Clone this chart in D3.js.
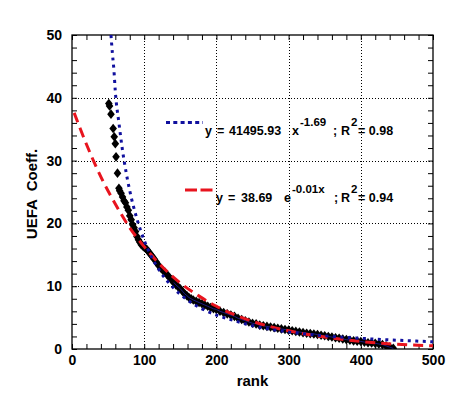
<!DOCTYPE html>
<html>
<head>
<meta charset="utf-8">
<script src="https://cdn.jsdelivr.net/npm/d3@7"></script>
<style>
  html, body { margin: 0; padding: 0; background: #fff; }
  svg { display: block; font-family: "Liberation Sans", Arial, sans-serif; font-weight: bold; }
  svg text { white-space: pre; }
</style>
</head>
<body>
<svg id="chart" width="469" height="397"></svg>
<script>
// ---- data ----
const ranks = [51,52,54,57,58.5,60,61,63,65,66,68,70,72,74,76,78,80,82,84,86,88,90,92,94,96,98,100,102,104,106,108,110,112,114,117,120,123,126,129,132,135,138,141,144,147,150,153,156,159,162,165,168,172,176,180,184,188,192,196,200,205,210,215,220,225,230,235,240,245,250,255,260,265,270,275,280,285,290,295,300,305,310,315,320,325,330,335,340,345,350,355,360,365,370,375,380,385,390,395,400,405,410,415,420,425,430,435,440,445];
const coeffs = [39.1,38.7,37.4,35.1,33.8,32.7,30.6,28.0,25.6,25.2,24.8,24.2,23.6,23.3,22.6,22.1,21.2,20.6,19.8,19.3,18.7,17.9,17.4,17.0,16.6,16.4,16.2,16.0,15.8,15.5,15.2,14.9,14.6,14.3,13.8,13.3,12.9,12.5,12.2,11.8,11.4,11.0,10.6,10.2,9.9,9.6,9.2,8.8,8.5,8.2,8.0,7.8,7.6,7.4,7.2,7.0,6.8,6.6,6.4,6.3,6.0,5.8,5.6,5.4,5.2,4.9,4.7,4.5,4.3,4.1,4.0,3.8,3.7,3.6,3.5,3.4,3.3,3.2,3.1,3.0,2.9,2.8,2.7,2.6,2.5,2.45,2.4,2.3,2.2,2.1,2.0,1.9,1.8,1.7,1.6,1.5,1.4,1.3,1.25,1.2,1.1,1.0,0.95,0.9,0.8,0.7,0.5,0.3,0.1];

// power-law fit curve (blue dotted), sampled as seen in the picture
const powerFitX = [54,56,58,60,65,70,75,80,90,100,110,120,140,160,180,200,225,250,300,350,400,450,500];
const powerFitY = [50,47,44.5,41,36,31.6,28.1,25.2,20.7,17.3,14.7,12.7,9.8,7.8,6.4,5.4,4.5,3.7,2.7,2.1,1.7,1.4,1.15];

// exponential fit curve (red dashed), sampled as seen in the picture
const expFitX = [3,20,40,60,80,100,125,150,175,200,250,300,350,400,450,500];
const expFitY = [37.6,32.6,27.4,23.1,19.3,16.3,13.1,10.5,8.5,6.8,4.4,2.9,1.9,1.2,0.75,0.5];

const xTickValues = [0,100,200,300,400,500];
const yTickValues = [0,10,20,30,40,50];
const xLabel = "rank";
const yLabel = "UEFA  Coeff.";

// ---- layout ----
const M = { left: 72, right: 433, top: 35, bottom: 349 };
const svg = d3.select("#chart");
const x = d3.scaleLinear().domain([0, 500]).range([M.left, M.right]);
const y = d3.scaleLinear().domain([0, 50]).range([M.bottom, M.top]);

svg.append("defs").append("clipPath").attr("id", "clip")
  .append("rect").attr("x", M.left).attr("y", M.top)
  .attr("width", M.right - M.left).attr("height", M.bottom - M.top);

// grid
const grid = svg.append("g").attr("stroke", "#000").attr("stroke-width", 1).attr("stroke-dasharray", "1,2");
xTickValues.slice(1, -1).forEach(v => {
  grid.append("line").attr("x1", Math.round(x(v)) + 0.5).attr("x2", Math.round(x(v)) + 0.5).attr("y1", M.top).attr("y2", M.bottom);
});
yTickValues.slice(1, -1).forEach(v => {
  grid.append("line").attr("y1", Math.round(y(v)) + 0.5).attr("y2", Math.round(y(v)) + 0.5).attr("x1", M.left).attr("x2", M.right);
});

// axes with inward ticks, mirrored
const xMinor = d3.range(0, 501, 20);
const yMinor = d3.range(0, 51, 2);
const axB = d3.axisBottom(x).tickValues(xMinor).tickSize(-5).tickFormat("");
const axT = d3.axisTop(x).tickValues(xMinor).tickSize(-5).tickFormat("");
const axL = d3.axisLeft(y).tickValues(yMinor).tickSize(-5).tickFormat("");
const axR = d3.axisRight(y).tickValues(yMinor).tickSize(-5).tickFormat("");
function styleAxis(g) { g.select(".domain").remove(); g.selectAll("line").attr("stroke", "#000"); }
svg.append("g").attr("transform", `translate(0,${M.bottom})`).call(axB).call(styleAxis);
svg.append("g").attr("transform", `translate(0,${M.top})`).call(axT).call(styleAxis);
svg.append("g").attr("transform", `translate(${M.left},0)`).call(axL).call(styleAxis);
svg.append("g").attr("transform", `translate(${M.right},0)`).call(axR).call(styleAxis);
svg.append("rect").attr("x", M.left).attr("y", M.top).attr("width", M.right - M.left).attr("height", M.bottom - M.top)
  .attr("fill", "none").attr("stroke", "#000").attr("stroke-width", 1.3);

// major tick labels
const xMajor = d3.axisBottom(x).tickValues(xTickValues).tickSize(0).tickPadding(6).tickFormat(d3.format("d"));
const gx = svg.append("g").attr("transform", `translate(0,${M.bottom})`).call(xMajor);
gx.select(".domain").remove();
gx.selectAll("text").attr("font-size", 14).attr("font-weight", "bold").attr("fill", "#000")
  .attr("font-family", "Liberation Sans, Arial, sans-serif");
const yMajor = d3.axisLeft(y).tickValues(yTickValues).tickSize(0).tickPadding(10).tickFormat(d3.format("d"));
const gy = svg.append("g").attr("transform", `translate(${M.left},0)`).call(yMajor);
gy.select(".domain").remove();
gy.selectAll("text").attr("font-size", 14).attr("font-weight", "bold").attr("fill", "#000")
  .attr("font-family", "Liberation Sans, Arial, sans-serif");

// axis titles
svg.append("text").attr("x", (M.left + M.right) / 2).attr("y", 386).attr("text-anchor", "middle")
  .attr("font-size", 15).text(xLabel);
svg.append("text").attr("transform", `translate(37,${(M.top + M.bottom) / 2 + 2}) rotate(-90)`).attr("text-anchor", "middle")
  .attr("font-size", 15).text(yLabel);

const plot = svg.append("g").attr("clip-path", "url(#clip)");

// data points (black diamonds)
const pts = ranks.map((r, i) => ({ r, v: coeffs[i] }));
plot.append("g").selectAll("path").data(pts).join("path")
  .attr("transform", d => `translate(${x(d.r)},${y(d.v)})`)
  .attr("d", "M0,-4.8L3.8,0L0,4.8L-3.8,0Z")
  .attr("fill", "#000");
// thin navy line through the dense part
const lineData = d3.line().x(d => x(d.r)).y(d => y(d.v));
plot.append("path").datum(pts.filter(d => d.r >= 140)).attr("d", lineData)
  .attr("fill", "none").attr("stroke", "#1a1a80").attr("stroke-width", 1);

// fit curves
const fitLine = d3.line().curve(d3.curveMonotoneX).x(d => x(d[0])).y(d => y(d[1]));
plot.append("path").datum(expFitX.map((v, i) => [v, expFitY[i]])).attr("d", fitLine)
  .attr("fill", "none").attr("stroke", "#e8141e").attr("stroke-width", 3).attr("stroke-dasharray", "10,6");
plot.append("path").datum(powerFitX.map((v, i) => [v, powerFitY[i]])).attr("d", fitLine)
  .attr("fill", "none").attr("stroke", "#10109e").attr("stroke-width", 3).attr("stroke-dasharray", "3,4.5");

// legend
const lg = svg.append("g");
lg.append("line").attr("x1", 166).attr("x2", 203).attr("y1", 122.5).attr("y2", 122.5)
  .attr("stroke", "#10109e").attr("stroke-width", 3).attr("stroke-dasharray", "4,3.3");
lg.append("line").attr("x1", 185).attr("x2", 213).attr("y1", 190).attr("y2", 190)
  .attr("stroke", "#e8141e").attr("stroke-width", 3).attr("stroke-dasharray", "12,3.5");

function legendText(parts, baseY) {
  parts.forEach(p => {
    lg.append("text").attr("x", p.x).attr("y", baseY + (p.sup ? -9 : 0))
      .attr("font-size", p.sup ? 11.5 : 12.5).text(p.t);
  });
}
legendText([
  { t: "y", x: 205 },
  { t: "=", x: 217 },
  { t: "41495.93", x: 229 },
  { t: "x", x: 292 },
  { t: "-1.69", x: 300, sup: true },
  { t: ";", x: 333 },
  { t: "R", x: 341 },
  { t: "2", x: 351, sup: true },
  { t: "= 0.98", x: 358 }
], 135);
legendText([
  { t: "y", x: 216 },
  { t: "=", x: 228 },
  { t: "38.69", x: 241 },
  { t: "e", x: 284 },
  { t: "-0.01x", x: 292, sup: true },
  { t: ";", x: 334 },
  { t: "R", x: 341 },
  { t: "2", x: 351, sup: true },
  { t: "= 0.94", x: 358 }
], 202);
</script>
</body>
</html>
